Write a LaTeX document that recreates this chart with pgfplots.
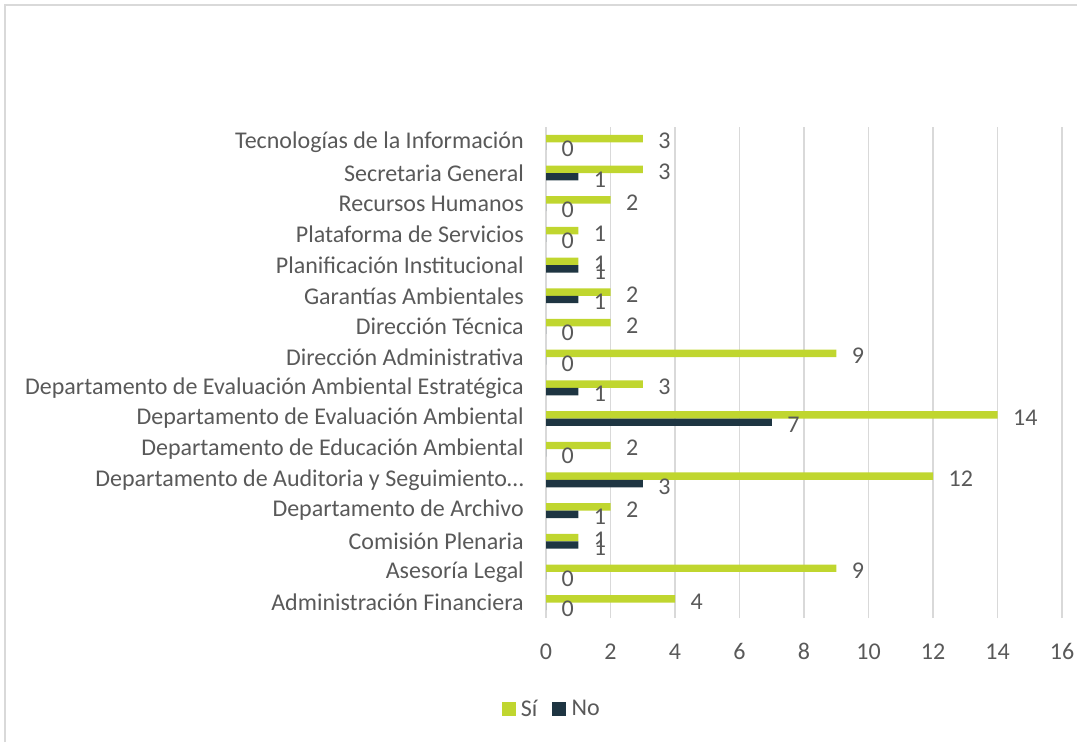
\documentclass[border=0pt]{standalone}
\usepackage{pgfplots}
\pgfplotsset{compat=1.18}
\usepackage{fontspec}
\setmainfont{Carlito}
\definecolor{si}{HTML}{C0D62F}
\definecolor{no}{HTML}{1E3542}
\definecolor{txt}{HTML}{595959}
\definecolor{grd}{HTML}{D9D9D9}
\newcommand\lblfont{\fontsize{18}{21}\selectfont}
\begin{document}
\begin{tikzpicture}
\useasboundingbox (0,0) rectangle (807.75pt,556.5pt);
\draw[grd, line width=1.2pt] (3.75pt,0) -- (3.75pt,552.75pt) -- (807.75pt,552.75pt);
\begin{axis}[
  at={(409.5pt,93pt)}, anchor=south west,
  scale only axis, width=387pt, height=368.25pt,
  xmin=0, xmax=16, ymin=-0.5, ymax=15.5,
  xbar, bar width=5.6pt,
  xtick={0,2,...,16},
  ytick={0,...,15},
  yticklabels={Administración Financiera,Asesoría Legal,Comisión Plenaria,Departamento de Archivo,Departamento de Auditoria y Seguimiento…,Departamento de Educación Ambiental,Departamento de Evaluación Ambiental,Departamento de Evaluación Ambiental Estratégica,Dirección Administrativa,Dirección Técnica,Garantías Ambientales,Planificación Institucional,Plataforma de Servicios,Recursos Humanos,Secretaria General,Tecnologías de la Información},
  xmajorgrids, grid style={grd, line width=0.9pt},
  axis line style={draw=none}, major tick length=0pt, tick style={draw=none},
  /pgf/number format/assume math mode=true,
  ticklabel style={font=\lblfont, text=txt},
  yticklabel style={anchor=east, inner sep=0pt, xshift=-16.5pt},
  xticklabel style={anchor=center, inner sep=0pt, yshift=-25pt},
  nodes near coords,
  every node near coord/.append style={font=\lblfont, text=txt, anchor=west, inner sep=0pt, xshift=11.5pt, yshift=-2pt, /pgf/number format/assume math mode=true},
  legend style={at={(0.0116,-0.1853)}, anchor=center, draw=none, legend columns=2, font=\lblfont, text=txt, /tikz/every even column/.append style={column sep=9pt}, /tikz/every odd column/.append style={column sep=2pt}, inner sep=0pt},
  legend image code/.code={\fill[#1,draw=none] (0pt,-5.25pt) rectangle (10.5pt,5.25pt);},
]
\addplot[fill=si, draw=none, bar shift=2.8pt] coordinates {
(4,0) (9,1) (1,2) (2,3) (12,4) (2,5) (14,6) (3,7) (9,8) (2,9) (2,10) (1,11) (1,12) (2,13) (3,14) (3,15)};
\addplot[fill=no, draw=none, bar shift=-2.8pt] coordinates {
(0,0) (0,1) (1,2) (1,3) (3,4) (0,5) (7,6) (1,7) (0,8) (0,9) (1,10) (1,11) (0,12) (0,13) (1,14) (0,15)};
\legend{Sí,No}
\end{axis}
\end{tikzpicture}
\end{document}
